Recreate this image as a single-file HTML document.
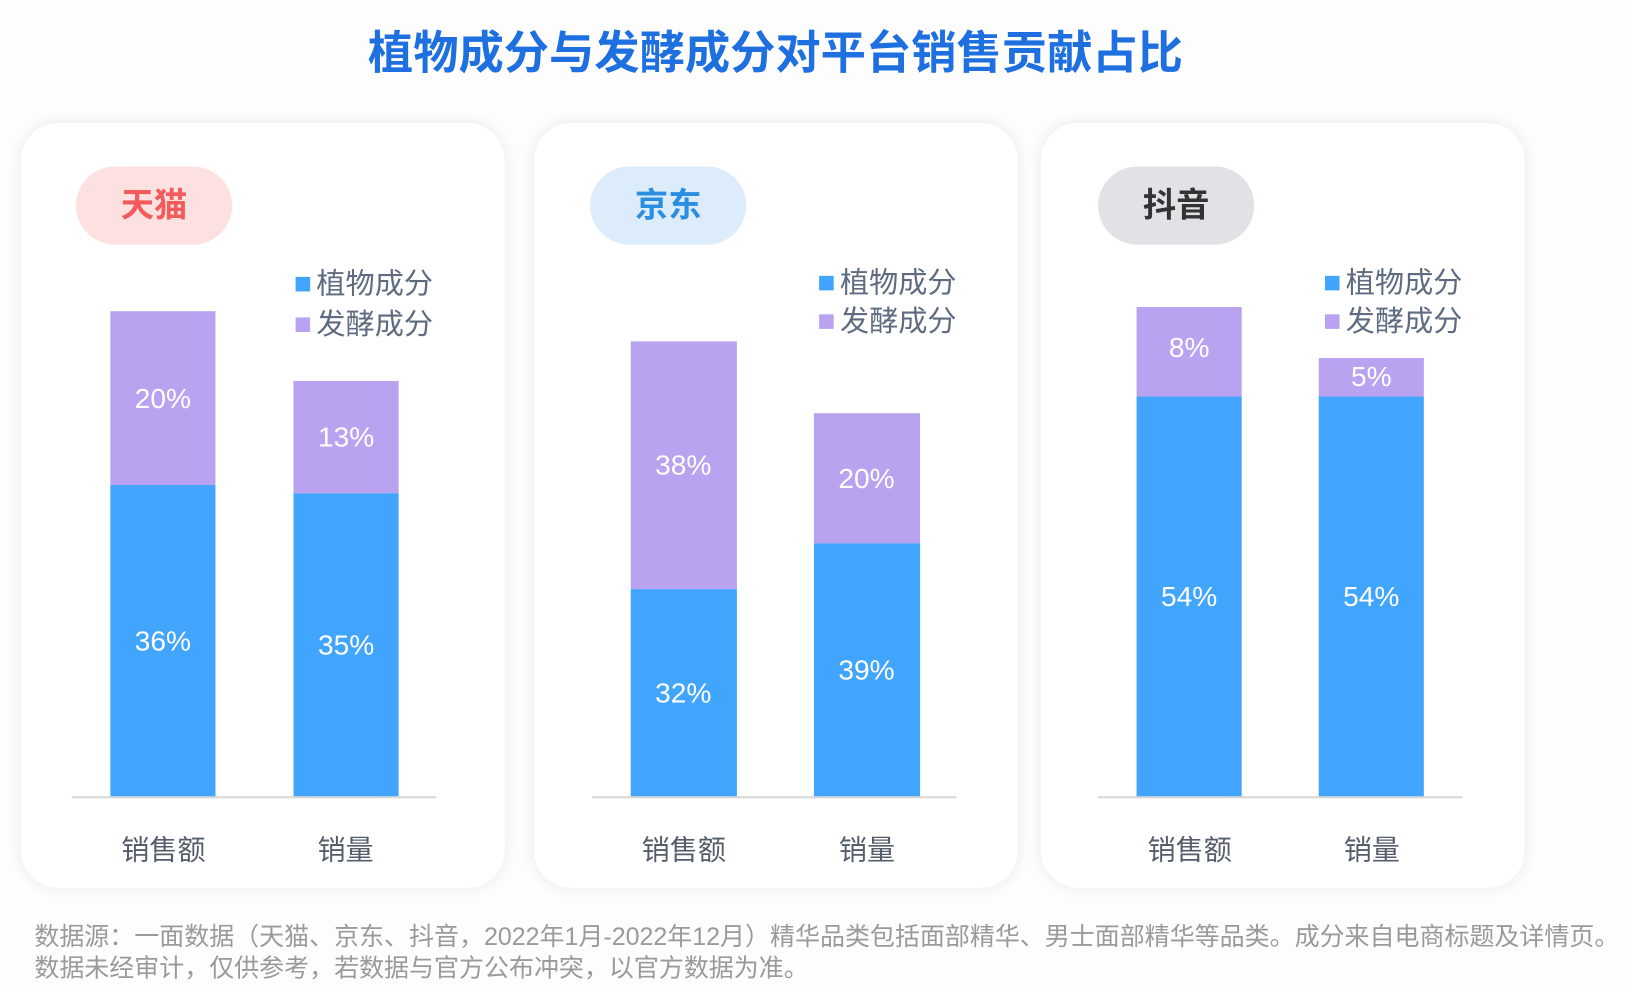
<!DOCTYPE html>
<html><head><meta charset="utf-8"><style>
html,body{margin:0;padding:0;width:1632px;height:992px;overflow:hidden;background:#fff;}
#w{position:absolute;left:0;top:0;width:1568px;height:953px;transform:scale(1.04082);transform-origin:0 0;font-family:"Liberation Sans","Noto Sans CJK SC",sans-serif;background:#fdfdfe;}
.a{position:absolute;}
.title{left:0;width:1490px;top:16px;text-align:center;font-size:43.5px;font-weight:bold;color:#1e6fdf;}
.panel{top:118px;width:465px;height:735px;background:#fff;border-radius:36px;box-shadow:0 0 14px rgba(0,0,0,0.08);}
.pill{top:160px;width:150px;height:75px;border-radius:38px;text-align:center;line-height:75px;font-size:32px;font-weight:bold;}
.sq{width:14px;height:14px;}
.lg{font-size:28px;color:#5f6b80;line-height:30px;}
.b{background:#42a5fd;}
.p{background:#b9a2ef;}
.pct{color:#fff;font-size:27px;text-align:center;width:101px;}
.base{height:2px;background:#d8d8d8;top:765px;width:350px;}
.xl{font-size:27px;color:#555d6b;text-align:center;width:140px;top:795px;}
.ft{left:33px;font-size:24px;color:#9a9a9a;white-space:nowrap;}
</style></head><body><div id="w">
<div class="a title">植物成分与发酵成分对平台销售贡献占比</div>

<div class="a panel" style="left:20px"></div>
<div class="a panel" style="left:513px"></div>
<div class="a panel" style="left:1000px"></div>

<div class="a pill" style="left:73px;background:#fde0e0;color:#f25a5c">天猫</div>
<div class="a pill" style="left:567px;background:#dcecfb;color:#2a8fe2">京东</div>
<div class="a pill" style="left:1055px;background:#e1e2e5;color:#333">抖音</div>

<div class="a sq b" style="left:284px;top:266px"></div><div class="a lg" style="left:304px;top:258px">植物成分</div>
<div class="a sq p" style="left:284px;top:305px"></div><div class="a lg" style="left:304px;top:297px">发酵成分</div>
<div class="a sq b" style="left:787px;top:265px"></div><div class="a lg" style="left:807px;top:257px">植物成分</div>
<div class="a sq p" style="left:787px;top:302px"></div><div class="a lg" style="left:807px;top:294px">发酵成分</div>
<div class="a sq b" style="left:1273px;top:265px"></div><div class="a lg" style="left:1293px;top:257px">植物成分</div>
<div class="a sq p" style="left:1273px;top:302px"></div><div class="a lg" style="left:1293px;top:294px">发酵成分</div>

<div class="a p" style="left:106px;top:299px;width:101px;height:167px"></div>
<div class="a b" style="left:106px;top:466px;width:101px;height:300px"></div>
<div class="a p" style="left:282px;top:366px;width:101px;height:108px"></div>
<div class="a b" style="left:282px;top:474px;width:101px;height:292px"></div>
<div class="a pct" style="left:106px;top:368px">20%</div>
<div class="a pct" style="left:106px;top:601px">36%</div>
<div class="a pct" style="left:282px;top:405px">13%</div>
<div class="a pct" style="left:282px;top:605px">35%</div>
<div class="a base" style="left:69px"></div>
<div class="a xl" style="left:87px">销售额</div><div class="a xl" style="left:262px">销量</div>

<div class="a p" style="left:606px;top:328px;width:102px;height:238px"></div>
<div class="a b" style="left:606px;top:566px;width:102px;height:200px"></div>
<div class="a p" style="left:782px;top:397px;width:102px;height:125px"></div>
<div class="a b" style="left:782px;top:522px;width:102px;height:244px"></div>
<div class="a pct" style="left:606px;top:432px">38%</div>
<div class="a pct" style="left:606px;top:651px">32%</div>
<div class="a pct" style="left:782px;top:445px">20%</div>
<div class="a pct" style="left:782px;top:629px">39%</div>
<div class="a base" style="left:569px"></div>
<div class="a xl" style="left:587px">销售额</div><div class="a xl" style="left:763px">销量</div>

<div class="a p" style="left:1092px;top:295px;width:101px;height:86px"></div>
<div class="a b" style="left:1092px;top:381px;width:101px;height:385px"></div>
<div class="a p" style="left:1267px;top:344px;width:101px;height:37px"></div>
<div class="a b" style="left:1267px;top:381px;width:101px;height:385px"></div>
<div class="a pct" style="left:1092px;top:319px">8%</div>
<div class="a pct" style="left:1092px;top:558px">54%</div>
<div class="a pct" style="left:1267px;top:347px">5%</div>
<div class="a pct" style="left:1267px;top:558px">54%</div>
<div class="a base" style="left:1055px"></div>
<div class="a xl" style="left:1073px">销售额</div><div class="a xl" style="left:1248px">销量</div>

<div class="a ft" style="top:880px">数据源：一面数据（天猫、京东、抖音，2022年1月-2022年12月）精华品类包括面部精华、男士面部精华等品类。成分来自电商标题及详情页。</div>
<div class="a ft" style="top:910px">数据未经审计，仅供参考，若数据与官方公布冲突，以官方数据为准。</div>
</div></body></html>
